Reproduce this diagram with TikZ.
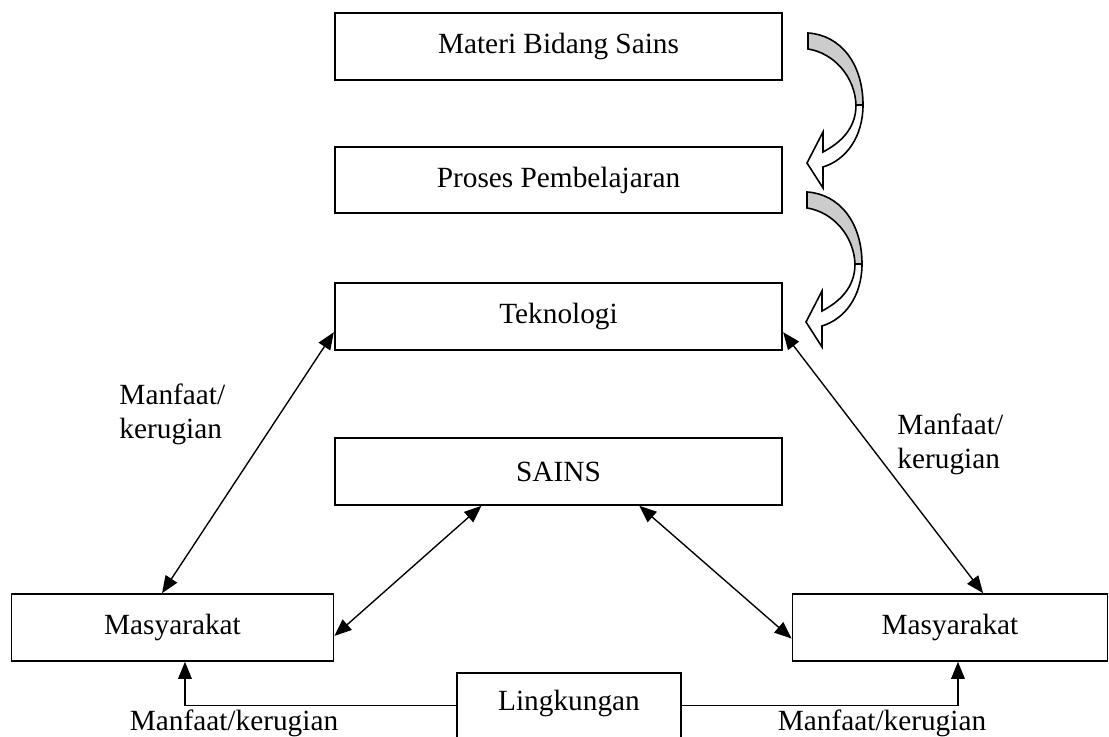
\documentclass[tikz,border=0pt]{standalone}
\usepackage{fontspec}
\setmainfont{Liberation Serif}
\usetikzlibrary{arrows.meta}

% one pixel of the layout
\def\pxu{0.4353pt}

% curved block arrow (tail at #1,#2)
\newcommand{\lengkung}[2]{%
  \begin{scope}[shift={(#1,#2)}, line width=0.7pt]
    % front (white)
    \filldraw[fill=white] (55,72) .. controls (55,104) and (38,127) .. (15,134)
      -- (15,155) -- (-1,130) -- (15,99) -- (15,119)
      .. controls (32,110) and (48,96) .. (48,72) -- cycle;
    % back (grey)
    \filldraw[fill=gray!40] (0,0) .. controls (32,2) and (55,30) .. (55,72)
      -- (48,72) .. controls (47,44) and (26,20) .. (0,16) -- cycle;
  \end{scope}}

\begin{document}
\begin{tikzpicture}[
    x=0.01535cm, y=-0.01535cm,
    every node/.style={font=\fontsize{12.8}{15}\selectfont},
    >={Triangle[length=7.5pt,width=6pt]},
    kotak/.style={draw, line width=0.8pt, inner sep=0pt,
      minimum width=449*\pxu, minimum height=67*\pxu},
    panah/.style={<->, line width=0.6pt},
    label/.style={align=left, inner sep=0pt, anchor=north west},
]
\useasboundingbox (0,0) rectangle (1109,737);

% === Upper chain ===
\node[kotak] (materi) at (558.5,46.5) {Materi Bidang Sains};
\node[kotak] (proses) at (558.5,180) {Proses Pembelajaran};
\node[kotak] (tekno) at (558.5,316.5) {Teknologi};
\node[kotak] (sains) at (558.5,471.5) {SAINS};

\lengkung{808}{33}
\lengkung{807}{192}

% === Society and environment ===
\node[kotak, minimum width=323*\pxu] (masyL) at (172.5,627.5) {Masyarakat};
\node[kotak, minimum width=316*\pxu] (masyR) at (950,627.5) {Masyarakat};
\node[kotak, minimum width=224*\pxu, text height=38*\pxu, text depth=52*\pxu,
  anchor=north] (ling) at (569,672) {Lingkungan};

% === Two-way links ===
\draw[panah] (masyL.107) -- (tekno.184);
\draw[panah] (masyR.46) -- (tekno.-4);
\draw[panah] (masyL.-3) -- (sains.204);
\draw[panah] (masyR.184) -- (sains.-23);

% === Environment to society ===
\draw[->, line width=0.6pt] ([yshift=12*\pxu]ling.west) -| ([xshift=12.5*\pxu]masyL.south);
\draw[->, line width=0.6pt] ([yshift=12*\pxu]ling.east) -| ([xshift=8*\pxu]masyR.south);

% === Labels ===
\node[label] (labL) at (119,383) {Manfaat/\\kerugian};
\node[label] (labR) at (897,413) {Manfaat/\\kerugian};
\node[anchor=base] (labBL) at (234,731) {Manfaat/kerugian};
\node[anchor=base] (labBR) at (882,731) {Manfaat/kerugian};

\end{tikzpicture}
\end{document}
